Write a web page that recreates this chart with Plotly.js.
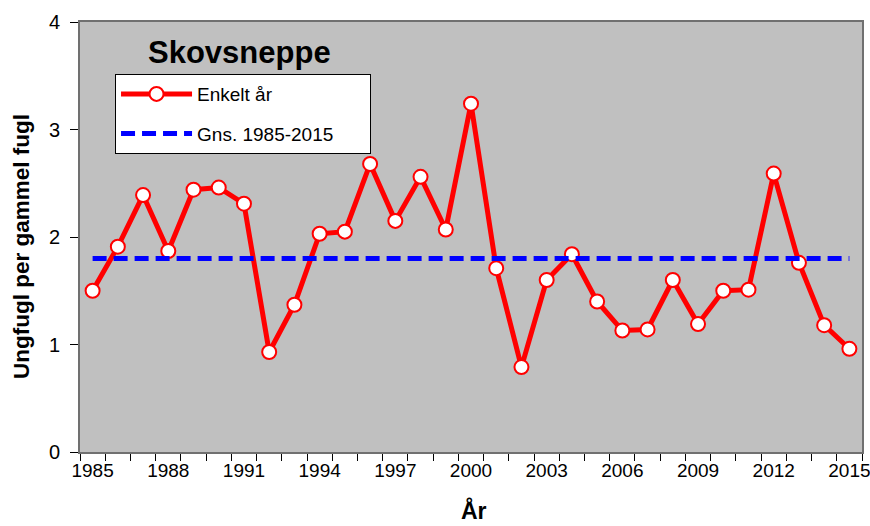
<!DOCTYPE html>
<html>
<head>
<meta charset="utf-8">
<script src="https://cdn.plot.ly/plotly-3.0.1.min.js"></script>
<style>html,body{margin:0;padding:0;background:#fff;}#chart{width:870px;height:526px;}</style>
</head>
<body>
<div id="chart"></div>
<script>
const years = [1985,1986,1987,1988,1989,1990,1991,1992,1993,1994,1995,1996,1997,1998,1999,2000,2001,2002,2003,2004,2005,2006,2007,2008,2009,2010,2011,2012,2013,2014,2015];
const enkeltAar = [1.50,1.91,2.39,1.87,2.44,2.46,2.31,0.93,1.37,2.03,2.05,2.68,2.15,2.56,2.07,3.24,1.71,0.79,1.60,1.84,1.40,1.13,1.14,1.60,1.19,1.50,1.51,2.59,1.76,1.18,0.96];
const meanYears = [1985, 2015];
const meanValues = [1.80, 1.80];
const xTickVals = [1985,1988,1991,1994,1997,2000,2003,2006,2009,2012,2015];
const xTickText = ["1985","1988","1991","1994","1997","2000","2003","2006","2009","2012","2015"];
const yTickVals = [0,1,2,3,4];
const yTickText = ["0","1","2","3","4"];

const FONT = "Liberation Sans, Arial, sans-serif";
const PAD = "\u00a0\u00a0\u00a0\u00a0\u00a0\u00a0";

const traces = [
  {
    x: years, y: enkeltAar, name: "Enkelt år", type: "scatter", mode: "lines+markers",
    legendgroup: "a",
    line: {color: "#FF0000", width: 5},
    marker: {size: 14, color: "#FFFFFF", line: {color: "#FF0000", width: 2}}
  },
  {
    x: meanYears, y: meanValues, name: "Gns. 1985-2015" + PAD, type: "scatter", mode: "lines",
    legendgroup: "b",
    line: {color: "#0000FF", width: 5, dash: "14px,7px"}
  }
];

const layout = {
  width: 870, height: 526,
  margin: {l: 80, r: 8, t: 22, b: 74},
  paper_bgcolor: "#FFFFFF",
  plot_bgcolor: "#C0C0C0",
  font: {family: FONT, size: 19, color: "#000"},
  showlegend: true,
  legend: {
    x: 0.0448, y: 0.879, xanchor: "left", yanchor: "top",
    bgcolor: "#FFFFFF", bordercolor: "#000000", borderwidth: 1,
    font: {family: FONT, size: 19, color: "#000"},
    itemwidth: 71, traceorder: "grouped", tracegroupgap: 12
  },
  xaxis: {
    range: [1984.5, 2015.5],
    tickmode: "array", tickvals: xTickVals, ticktext: xTickText,
    ticks: "", showgrid: false, zeroline: false,
    showline: true, linecolor: "#707070", linewidth: 2, mirror: true,
    tickfont: {family: FONT, size: 19},
    ticklabeloverflow: "allow",
    minor: {tickmode: "linear", tick0: 1984.5, dtick: 1, ticks: "outside", ticklen: 7, tickcolor: "#000", tickwidth: 1, showgrid: false}
  },
  yaxis: {
    range: [0, 4],
    tickmode: "array", tickvals: yTickVals, ticktext: yTickText,
    ticks: "outside", ticklen: 8, tickcolor: "#000", tickwidth: 1,
    showgrid: false, zeroline: false,
    showline: true, linecolor: "#707070", linewidth: 2, mirror: true,
    tickfont: {family: FONT, size: 20},
    ticklabelstandoff: 6
  },
  annotations: [
    {text: "<b>Skovsneppe</b>", xref: "paper", yref: "paper", x: 0.2046, y: 0.930,
     xanchor: "center", yanchor: "middle", showarrow: false,
     font: {family: FONT, size: 31, color: "#000"}},
    {text: "<b>Ungfugl per gammel fugl</b>", xref: "paper", yref: "paper", x: -0.0755, y: 0.479,
     xanchor: "center", yanchor: "middle", textangle: -90, showarrow: false,
     font: {family: FONT, size: 22.5, color: "#000"}},
    {text: "<b>År</b>", xref: "paper", yref: "paper", x: 0.504, y: -0.1372,
     xanchor: "center", yanchor: "middle", showarrow: false,
     font: {family: FONT, size: 23, color: "#000"}}
  ]
};

Plotly.newPlot("chart", traces, layout, {displayModeBar: false, staticPlot: true});
</script>
</body>
</html>
